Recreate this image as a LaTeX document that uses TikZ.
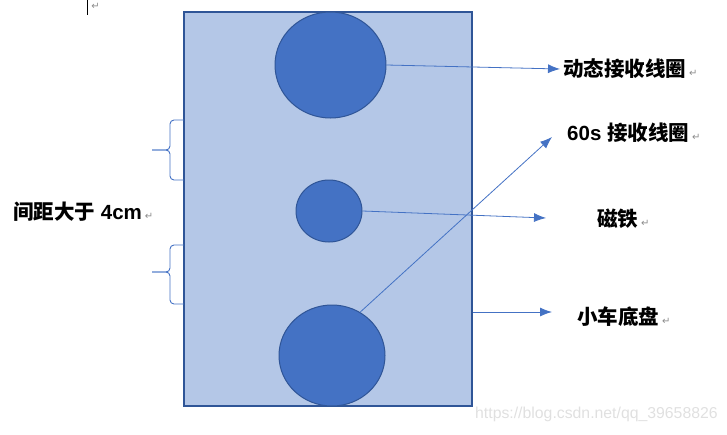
\documentclass[tikz,border=0pt]{standalone}
\usepackage{fontspec}
\setmainfont{Liberation Sans}
\newfontfamily\cjk{Noto Sans CJK SC}
\newfontfamily\symfont{DejaVu Sans}
\usetikzlibrary{shapes.geometric,arrows.meta}
\definecolor{basefill}{HTML}{B4C7E7}
\definecolor{darkblue}{HTML}{2F5597}
\definecolor{midblue}{HTML}{4472C4}
\definecolor{markgray}{HTML}{8C8C8C}
\newcommand{\parmark}{\hspace{3pt}{\symfont\mdseries\fontsize{10}{10}\selectfont\color{markgray}↵}}
\newcommand{\lblfont}{\fontsize{20.5}{24}\selectfont\bfseries}

\begin{document}
\begin{tikzpicture}[x=1pt,y=-1pt,>={Latex[length=12pt,width=9pt]},
	coil/.style={ellipse,draw=darkblue,line width=1pt,fill=midblue,inner sep=0pt},
	lbl/.style={anchor=west,inner sep=0pt,font=\lblfont},
	pointer/.style={->,midblue,line width=0.8pt},
	bracket/.style={midblue,line width=0.9pt,rounded corners=4pt}]
			\useasboundingbox (0,0) rectangle (727,434);

			% chassis and coils
			\node[draw=darkblue,line width=1.6pt,fill=basefill,minimum width=288pt,minimum height=394pt,inner sep=0pt] (base) at (328,209) {};
			\node[coil,minimum width=111pt,minimum height=106pt] (coilTop) at (330.5,65) {};
			\node[coil,minimum width=66pt,minimum height=62pt] (magnet) at (329,211) {};
			\node[coil,minimum width=106pt,minimum height=101pt] (coilBot) at (332,355.5) {};

			% labels
			\node[lbl] (dyn) at (563,69) {\cjk 动态接收线圈\parmark};
			\node[lbl] (sixty) at (567,133) {60s {\cjk 接收线圈}\parmark};
			\node[lbl] (mag) at (597,219) {\cjk 磁铁\parmark};
			\node[lbl] (car) at (577,317) {\cjk 小车底盘\parmark};
			\node[lbl] (gap) at (13,212) {{\cjk 间距大于} 4cm\parmark};

			\coordinate (dynEnd) at (560,69);
			\coordinate (sixtyEnd) at (552,137);
			\coordinate (magEnd) at (546,218);
			\coordinate (carStart) at (base.east |- 0,312);
			\coordinate (carEnd) at (552,312);

			\draw[pointer] (coilTop.east) -- (dynEnd);
			\draw[pointer] (coilBot.57) -- (sixtyEnd);
			\draw[pointer] (magnet.east) -- (magEnd);
			\draw[pointer] (carStart) -- (carEnd);

			% braces
			\draw[bracket] (184,120) -- (170,120) -- (170,150) -- (152,150);
			\draw[bracket] (152,150) -- (170,150) -- (170,180) -- (184,180);
			\draw[bracket] (184,245) -- (170,245) -- (170,272) -- (152,272);
			\draw[bracket] (152,272) -- (170,272) -- (170,304) -- (184,304);

			% word marks
			\draw[line width=0.8pt] (87,0) -- (87,15);
			\node[inner sep=0pt] (topmark) at (94,6) {\parmark};
			\node[inner sep=0pt,anchor=west,text=black!12,font=\fontsize{15.8}{16}\selectfont] (url) at (475,414) {https://blog.csdn.net/qq\_39658826};
		\end{tikzpicture}
\end{document}
